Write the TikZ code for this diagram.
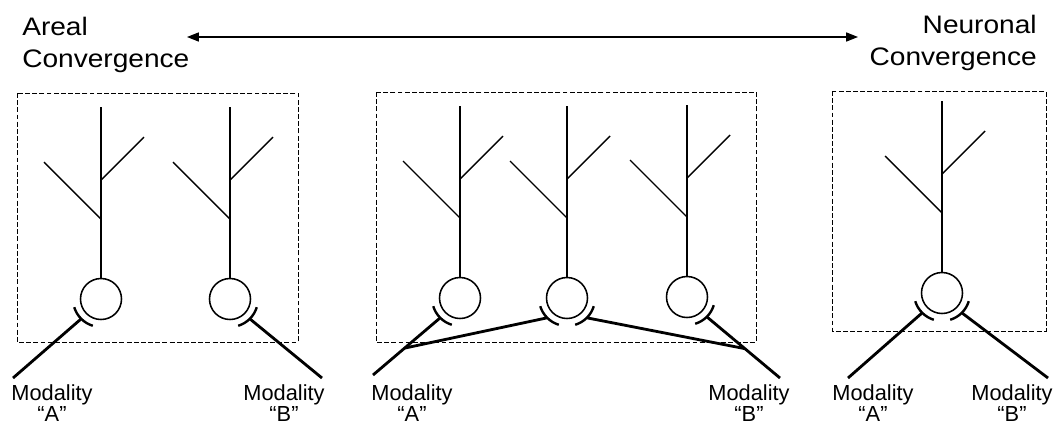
\documentclass[tikz,border=0pt]{standalone}
\usepackage{fontspec}
\setmainfont{Liberation Sans}
\newfontfamily\headfont[FakeStretch=1.11]{Liberation Sans}
\usetikzlibrary{arrows.meta,calc}

\begin{document}
\begin{tikzpicture}[x=0.025cm,y=0.025cm,
	soma/.style={circle,draw,line width=1.1pt,minimum size=1.025cm,inner sep=0pt},
	dendrite/.style={line width=1pt},
	axon/.style={line width=2pt},
	cleft/.style={line width=1.7pt},
	area/.style={draw,dash pattern=on 3.5pt off 1.6pt,line width=0.5pt},
	head/.style={font=\headfont\fontsize{18}{23}\selectfont,inner sep=0pt},
	modality/.style={font=\fontsize{15.5}{13.2}\selectfont,align=center,inner sep=0pt,anchor=north},
	neuron/.pic={
		\node[soma] (-soma) at (0,0) {};
		\draw[dendrite] (-soma) -- (0,192);
		\draw[dendrite] (0,80) -- ++(-57,57);
		\draw[dendrite] (0,119) -- ++(43,43);
	},
	synapse/.pic={\draw[cleft] (-28:28) arc[start angle=-28,end angle=28,radius=28];}]

	\useasboundingbox (0,0) rectangle (1056,-424);

	% titles and the range between them
	\node[head,align=left,anchor=north west] (areal) at (22,-16.5) {Areal\\Convergence};
	\node[head,align=right,anchor=north east] (neuronal) at (1037,-15) {Neuronal\\Convergence};
	\coordinate (arrowL) at (187,-37);
	\coordinate (arrowR) at (858,-37);
	\draw[{Triangle[length=8.5pt,width=6.5pt]}-{Triangle[length=8.5pt,width=6.5pt]},line width=0.85pt] (arrowL) -- (arrowR);

	% areas
	\draw[area] (17,-93) rectangle (298,-342);
	\draw[area] (376,-92) rectangle (756,-342);
	\draw[area] (832,-91) rectangle (1046,-331);

	% cells
	\pic (n1) at (101,-299) {neuron};
	\pic (n2) at (230,-299) {neuron};
	\pic (n3) at (460,-298) {neuron};
	\pic (n4) at (567,-298) {neuron};
	\pic (n5) at (687,-297) {neuron};
	\pic (n6) at (942,-293) {neuron};

	% synapses
	\pic[rotate=225] at (n1-soma.center) {synapse};
	\pic[rotate=315] at (n2-soma.center) {synapse};
	\pic[rotate=225] at (n3-soma.center) {synapse};
	\pic[rotate=225] at (n4-soma.center) {synapse};
	\pic[rotate=315] at (n4-soma.center) {synapse};
	\pic[rotate=315] at (n5-soma.center) {synapse};
	\pic[rotate=225] at (n6-soma.center) {synapse};
	\pic[rotate=315] at (n6-soma.center) {synapse};
	\path (n1-soma.center) ++(225:28) coordinate (s1);
	\path (n2-soma.center) ++(315:28) coordinate (s2);
	\path (n3-soma.center) ++(225:28) coordinate (s3);
	\path (n4-soma.center) ++(225:28) coordinate (s4a);
	\path (n4-soma.center) ++(315:28) coordinate (s4b);
	\path (n5-soma.center) ++(315:28) coordinate (s5);
	\path (n6-soma.center) ++(225:28) coordinate (s6a);
	\path (n6-soma.center) ++(315:28) coordinate (s6b);

	% inputs
	\coordinate (in1) at (13,-378);
	\coordinate (in2) at (322,-378);
	\coordinate (in3) at (373,-375);
	\coordinate (in5) at (780,-378);
	\coordinate (in6a) at (848,-378);
	\coordinate (in6b) at (1048,-378);
	\coordinate (j1) at ($(s3)!0.53!(in3)$);
	\coordinate (j2) at ($(s5)!0.52!(in5)$);

	\draw[axon] (in1) -- (s1);
	\draw[axon] (in2) -- (s2);
	\draw[axon] (in3) -- (s3);
	\draw[axon] (j1) -- (s4a);
	\draw[axon] (in5) -- (s5);
	\draw[axon] (j2) -- (s4b);
	\draw[axon] (in6a) -- (s6a);
	\draw[axon] (in6b) -- (s6b);

	% labels
	\node[modality] (m1) at (52,-384) {Modality\\“A”};
	\node[modality] (m2) at (284,-384) {Modality\\“B”};
	\node[modality] (m3) at (412,-384) {Modality\\“A”};
	\node[modality] (m5) at (749,-384) {Modality\\“B”};
	\node[modality] (m6a) at (873,-384) {Modality\\“A”};
	\node[modality] (m6b) at (1012,-384) {Modality\\“B”};

\end{tikzpicture}
\end{document}
